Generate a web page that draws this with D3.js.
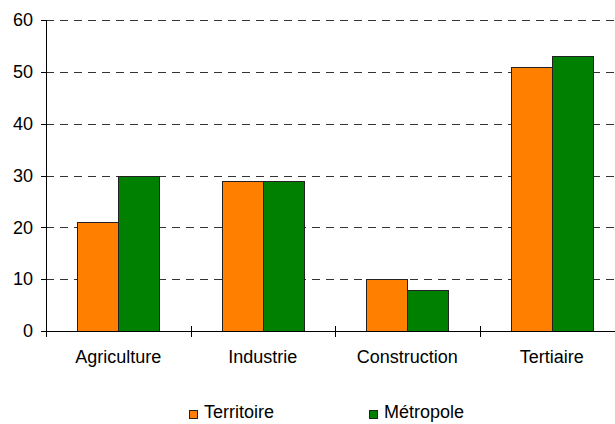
<!DOCTYPE html>
<html><head><meta charset="utf-8">
<script src="https://cdn.jsdelivr.net/npm/d3@7"></script>
<style>
html,body{margin:0;padding:0;background:#fff;overflow:hidden}
text{font-family:"Liberation Sans",Arial,sans-serif;}
</style></head>
<body><svg id="c" width="615" height="424"></svg>
<script>
const categories = ["Agriculture", "Industrie", "Construction", "Tertiaire"];
const seriesNames = ["Territoire", "Métropole"];
const territoire = [21, 29, 10, 51];
const metropole = [30, 29, 8, 53];
const yTicks = [0, 10, 20, 30, 40, 50, 60];
const colors = ["#ff8000", "#008000"];

(function () {
const svg = d3.select("#c");
const mLeft = 46, mRight = 624, mTop = 20, mBottom = 331;
const fs = 18;

const x = d3.scaleBand().domain(categories).range([mLeft, mRight]).paddingInner(0).paddingOuter(0);
const y = d3.scaleLinear().domain([0, 60]).range([mBottom, mTop]);
const xs = d3.scaleBand().domain(seriesNames).range([0, x.bandwidth()]).paddingInner(0).paddingOuter(0.76);

// grid
svg.append("g").selectAll("line").data(yTicks.filter(d => d > 0)).join("line")
  .attr("x1", mLeft).attr("x2", mRight)
  .attr("y1", d => Math.round(y(d)) + 0.5).attr("y2", d => Math.round(y(d)) + 0.5)
  .attr("stroke", "#333").attr("stroke-dasharray", "8,6");

// bars
const series = [territoire, metropole];
const g = svg.append("g");
series.forEach((vals, si) => {
  g.selectAll(null).data(vals).join("rect")
    .attr("x", (d, i) => Math.round(x(categories[i]) + xs(seriesNames[si])) + 0.5)
    .attr("y", d => Math.round(y(d)) + 0.5)
    .attr("width", Math.round(xs.bandwidth()))
    .attr("height", d => mBottom - Math.round(y(d)))
    .attr("fill", colors[si])
    .attr("stroke", "#222").attr("stroke-width", 1);
});

// axes
const ax = svg.append("g");
ax.append("line").attr("x1", mLeft + 0.5).attr("x2", mLeft + 0.5).attr("y1", mTop).attr("y2", mBottom + 6).attr("stroke", "#000");
ax.append("line").attr("x1", mLeft).attr("x2", mRight).attr("y1", mBottom + 0.5).attr("y2", mBottom + 0.5).attr("stroke", "#000");
ax.selectAll(".yt").data(yTicks).join("line")
  .attr("x1", mLeft - 5).attr("x2", mLeft + 1)
  .attr("y1", d => Math.round(y(d)) + 0.5).attr("y2", d => Math.round(y(d)) + 0.5)
  .attr("stroke", "#000");
ax.selectAll(".yl").data(yTicks).join("text")
  .attr("x", 33).attr("y", d => y(d)).attr("dy", "0.35em")
  .attr("text-anchor", "end").attr("font-size", fs).attr("fill", "#000")
  .text(d => d);
ax.selectAll(".xt").data(categories).join("line")
  .attr("x1", d => Math.round(x(d)) + 0.5).attr("x2", d => Math.round(x(d)) + 0.5)
  .attr("y1", mBottom - 5).attr("y2", mBottom + 6).attr("stroke", "#000");
ax.selectAll(".xl").data(categories).join("text")
  .attr("x", d => x(d) + x.bandwidth() / 2).attr("y", 363)
  .attr("text-anchor", "middle").attr("font-size", fs).attr("fill", "#000")
  .text(d => d);

// legend
const legX = [189, 369];
const leg = svg.append("g");
seriesNames.forEach((n, i) => {
  leg.append("rect").attr("x", legX[i] + 0.5).attr("y", 410.5).attr("width", 8).attr("height", 8)
    .attr("fill", colors[i]).attr("stroke", "#222");
  leg.append("text").attr("x", legX[i] + 15).attr("y", 418)
    .attr("font-size", fs).attr("fill", "#000").text(n);
});
})();
</script></body></html>
